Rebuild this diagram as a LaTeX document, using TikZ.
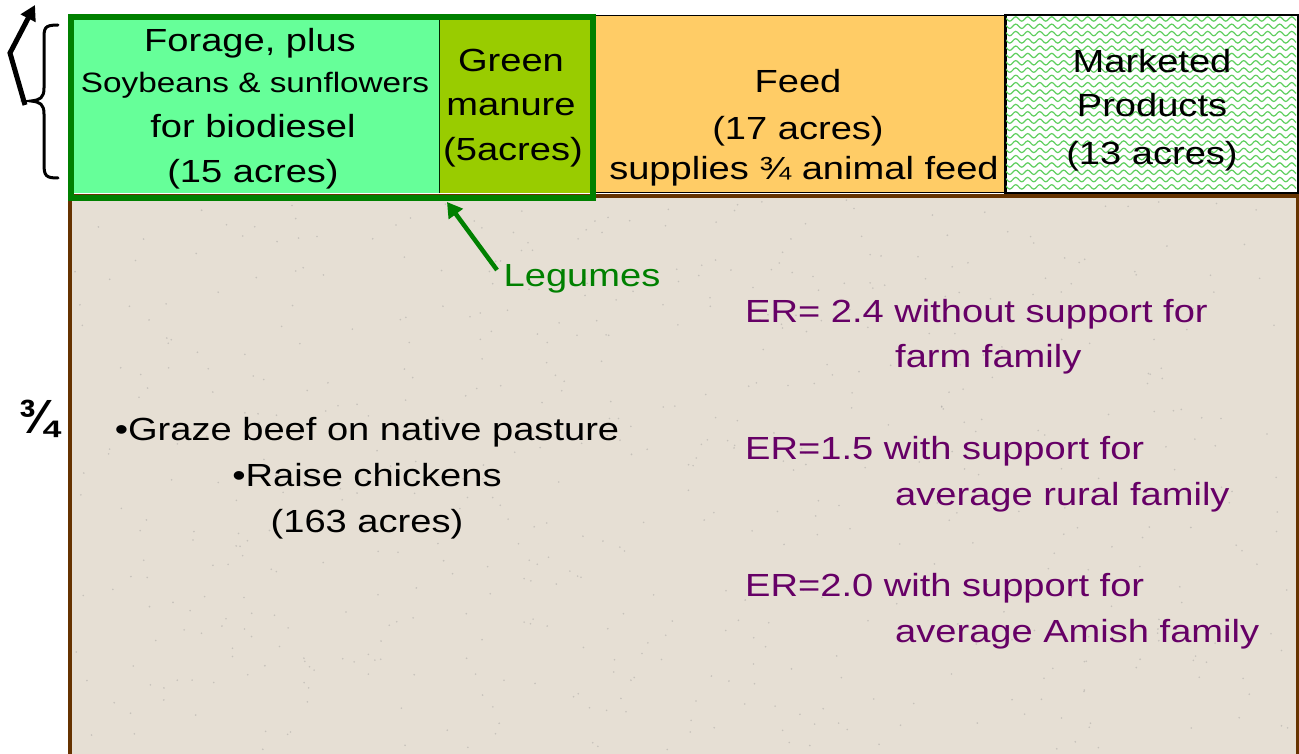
\documentclass[tikz,border=0pt]{standalone}
\usepackage{fontspec}
\setmainfont[FakeStretch=1.19]{Liberation Sans}
\newfontfamily\plainsans{Liberation Sans}
\usetikzlibrary{decorations.pathmorphing,arrows.meta}
\definecolor{dkgreen}{HTML}{008000}
\definecolor{forage}{HTML}{66FF99}
\definecolor{manure}{HTML}{99CC00}
\definecolor{feed}{HTML}{FFCC66}
\definecolor{brownb}{HTML}{663300}
\definecolor{beige}{HTML}{E6DFD4}
\definecolor{zig}{HTML}{5FCF5F}
\definecolor{purp}{HTML}{660066}
\tikzset{
  big/.style={font=\fontsize{32}{38}\selectfont},
  mid/.style={font=\fontsize{28}{32}\selectfont},
  txt/.style={anchor=base, inner sep=0pt},
  er/.style={txt, anchor=base west, text=purp, big},
}
\begin{document}
\begin{tikzpicture}[x=1pt,y=-1pt]
\useasboundingbox (0,0) rectangle (1299,754);
% big field
\begin{scope}
\clip (0,0) rectangle (1299,754);
\node[draw=brownb, line width=4pt, fill=beige, anchor=north west, minimum width=1228pt, minimum height=580pt, inner sep=0pt] (field) at (68,194) {};
\pgfmathsetseed{7}
\foreach \i in {1,...,600}{
  \pgfmathsetmacro{\xx}{75+rnd*1215}
  \pgfmathsetmacro{\yy}{200+rnd*550}
  \fill[black!45, opacity=0.35] (\xx,\yy) circle (0.9pt);
}
\end{scope}
% feed
\node[draw=black, line width=1.5pt, fill=feed, anchor=north west, minimum width=413pt, minimum height=177pt, inner sep=0pt] (feedbox) at (592,15) {};
% marketed
\node[draw=black, line width=1.5pt, fill=white, anchor=north west, minimum width=292pt, minimum height=177pt, inner sep=0pt] (mkt) at (1005,15) {};
\begin{scope}
\clip (1006,16) rectangle (1296,191);
\foreach \r in {0,...,24}{
  \draw[zig, line width=1.2pt, decorate, decoration={snake, segment length=12pt, amplitude=2.2pt}] (1000,{19+\r*7.3}) -- (1305,{19+\r*7.3});
}
\end{scope}
\draw[black, line width=1.5pt] (mkt.north west) rectangle (mkt.south east);
% forage + manure
\node[fill=forage, anchor=north west, minimum width=370pt, minimum height=178pt, inner sep=0pt] (forbox) at (69,15) {};
\node[fill=manure, anchor=north west, minimum width=151pt, minimum height=178pt, inner sep=0pt] (manbox) at (439,15) {};
\draw[black!70!dkgreen, line width=1.2pt] (forbox.north east) -- (forbox.south east);
\node[draw=dkgreen, line width=6pt, anchor=north west, minimum width=522pt, minimum height=181pt, inner sep=0pt] (outer) at (68,14) {};
% texts in boxes
\node[txt, big] (f1) at (250,52) {Forage, plus};
\node[txt, mid] (f2) at (255,93) {Soybeans \& sunflowers};
\node[txt, big] (f3) at (253,138) {for biodiesel};
\node[txt, big] (f4) at (253,183) {(15 acres)};
\node[txt, big] (m1) at (511,72) {Green};
\node[txt, big] (m2) at (511,116) {manure};
\node[txt, big] (m3) at (513,161) {(5acres)};
\node[txt, big] (d1) at (798,93) {Feed};
\node[txt, big] (d2) at (798,140) {(17 acres)};
\node[txt, big] (d3) at (804,180) {supplies ¾ animal feed};
\node[txt, big] (k1) at (1152,73) {Marketed};
\node[txt, big] (k2) at (1152,117) {Products};
\node[txt, big] (k3) at (1152,165) {(13 acres)};
% legumes
\node[txt, big, text=dkgreen] (leg) at (582,287) {Legumes};
\coordinate (legtail) at (497,270);
\coordinate (legtip) at (447,202);
\draw[dkgreen, line width=4.5pt, -{Triangle[length=15pt,width=17pt]}] (legtail) -- (legtip);
% left text
\node[txt, big] (g1) at (367,440) {•Graze beef on native pasture};
\node[txt, big] (g2) at (367,486) {•Raise chickens};
\node[txt, big] (g3) at (367,532) {(163 acres)};
% ER texts
\node[er] (e1) at (745,322) {ER= 2.4 without support for};
\node[er] (e2) at (895,367) {farm family};
\node[er] (e3) at (745,459) {ER=1.5 with support for};
\node[er] (e4) at (895,505) {average rural family};
\node[er] (e5) at (745,596) {ER=2.0 with support for};
\node[er] (e6) at (895,642) {average Amish family};
% three quarters
\node[txt, font=\plainsans\bfseries\fontsize{48}{54}\selectfont] (tq) at (39,433) {¾};
% brace
\draw[black, line width=3pt, line cap=round] (58,25) .. controls (44,25) and (44,28) .. (44,40) -- (44,88) .. controls (44,98) and (40,100) .. (31,101) .. controls (40,102) and (44,104) .. (44,114) -- (44,164) .. controls (44,176) and (46,178) .. (58,178);
% arrow
\coordinate (a0) at (25,105);
\coordinate (a1) at (10,53);
\coordinate (a2) at (35,5);
\draw[black, line width=5pt, -{Triangle[length=15pt,width=16pt]}] (a0) -- (a1) -- (a2);
\end{tikzpicture}
\end{document}
